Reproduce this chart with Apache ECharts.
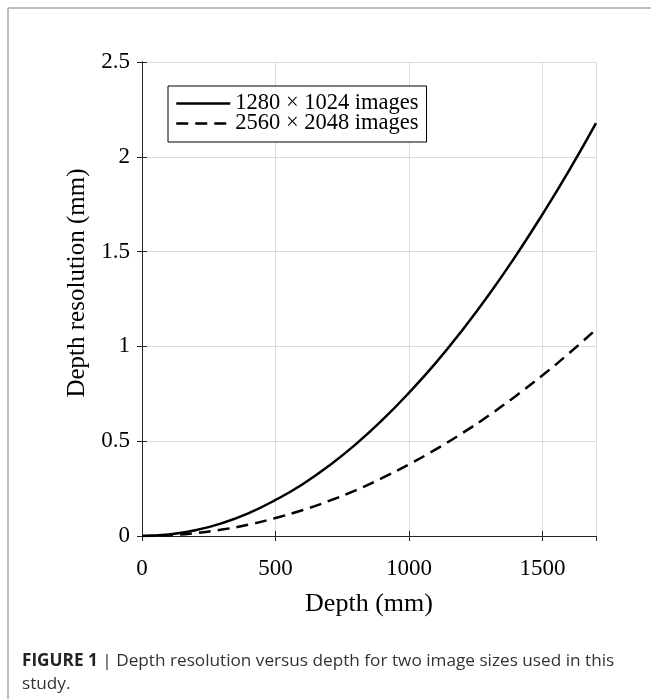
<!DOCTYPE html>
<html>
<head>
<meta charset="utf-8">
<script src="https://cdn.jsdelivr.net/npm/echarts@6/dist/echarts.min.js"></script>
<style>
html,body{margin:0;padding:0;background:#fff;}
#c{width:651px;height:699px;}
</style>
</head>
<body>
<div id="c"></div>
<script>
// Data
const depth = [0, 100, 200, 300, 400, 500, 600, 700, 800, 900, 1000, 1100, 1200, 1300, 1400, 1500, 1600, 1700];
const res1280 = [0, 0.008, 0.030, 0.068, 0.121, 0.190, 0.272, 0.370, 0.483, 0.612, 0.756, 0.913, 1.087, 1.275, 1.479, 1.698, 1.930, 2.178];
const res2560 = [0, 0.004, 0.015, 0.034, 0.060, 0.095, 0.136, 0.185, 0.241, 0.306, 0.378, 0.457, 0.543, 0.637, 0.739, 0.848, 0.965, 1.089];
const seriesNames = ['1280 × 1024 images', '2560 × 2048 images'];
const xTicks = [0, 500, 1000, 1500];
const yTicks = [0, 0.5, 1, 1.5, 2, 2.5];
const xTitle = 'Depth (mm)';
const yTitle = 'Depth resolution (mm)';
const captionBold = 'FIGURE 1';
const captionLine1 = ' | Depth resolution versus depth for two image sizes used in this';
const captionLine2 = 'study.';

const serif = '"Liberation Serif", "DejaVu Serif", serif';
const sans = '"Open Sans", "Liberation Sans", Arial, sans-serif';
const axisColor = '#262626';

const chart = echarts.init(document.getElementById('c'), null, {renderer: 'canvas'});

const hiddenAxisBase = {
  axisLine: {show: true, lineStyle: {color: axisColor, width: 1}},
  axisTick: {show: true, inside: true, length: 5, lineStyle: {color: axisColor}},
  axisLabel: {show: false},
  splitLine: {show: false}
};

chart.setOption({
  animation: false,
  backgroundColor: '#fff',
  grid: {left: 142, right: 55, top: 62, bottom: 163, containLabel: false},
  legend: {
    orient: 'vertical',
    left: 168,
    top: 86,
    data: seriesNames,
    itemWidth: 54,
    itemHeight: 20,
    itemGap: -3,
    padding: [6, 8, 7, 7],
    borderColor: '#000',
    borderWidth: 1,
    backgroundColor: '#fff',
    itemStyle: {opacity: 0},
    lineStyle: {width: 2.5},
    textStyle: {fontFamily: serif, fontSize: 22.5, color: '#000'}
  },
  xAxis: [{
    type: 'value', min: 0, max: 1700, interval: 500,
    name: xTitle, nameLocation: 'middle', nameGap: 55,
    nameTextStyle: {fontFamily: serif, fontSize: 26, color: '#000'},
    axisLine: {show: true, onZero: false, lineStyle: {color: axisColor, width: 1}},
    axisTick: {show: true, inside: true, length: 5, lineStyle: {color: axisColor}},
    axisLabel: {fontFamily: serif, fontSize: 23, color: '#000', margin: 21, showMaxLabel: false,
      formatter: v => xTicks.includes(v) ? String(v) : ''},
    splitLine: {show: true, lineStyle: {color: '#dcdcdc', width: 1}}
  }, Object.assign({type: 'value', min: 0, max: 1700, interval: 500, position: 'top'}, hiddenAxisBase)],
  yAxis: [{
    type: 'value', min: 0, max: 2.5, interval: 0.5,
    name: yTitle, nameLocation: 'middle', nameGap: 46,
    nameTextStyle: {fontFamily: serif, fontSize: 25, color: '#000', padding: [0, 0, 0, 32]},
    axisLine: {show: true, onZero: false, lineStyle: {color: axisColor, width: 1}},
    axisTick: {show: true, inside: true, length: 5, lineStyle: {color: axisColor}},
    axisLabel: {fontFamily: serif, fontSize: 23, color: '#000', margin: 12,
      formatter: v => yTicks.includes(v) ? String(v) : ''},
    splitLine: {show: true, lineStyle: {color: '#dcdcdc', width: 1}}
  }, Object.assign({type: 'value', min: 0, max: 2.5, interval: 0.5, position: 'right'}, hiddenAxisBase)],
  series: [{
    name: seriesNames[0], type: 'line', smooth: true, symbol: 'none',
    data: depth.map((d, i) => [d, res1280[i]]),
    lineStyle: {color: '#000', width: 2.5, type: 'solid'},
    itemStyle: {color: '#000'}
  }, {
    name: seriesNames[1], type: 'line', smooth: true, symbol: 'none',
    data: depth.map((d, i) => [d, res2560[i]]),
    lineStyle: {color: '#000', width: 2.5, type: [12, 7]},
    itemStyle: {color: '#000'}
  }],
  graphic: [
    {type: 'line', shape: {x1: 8, y1: 8, x2: 651, y2: 8}, style: {stroke: '#a8a8a8', lineWidth: 1.5}},
    {type: 'line', shape: {x1: 8, y1: 8, x2: 8, y2: 699}, style: {stroke: '#a8a8a8', lineWidth: 1.5}},
    {type: 'text', x: 22, y: 661, style: {
      text: '{b|' + captionBold + '}{n|' + captionLine1 + '}',
      verticalAlign: 'middle',
      rich: {
        b: {fontFamily: sans, fontSize: 17.2, fontWeight: 'bold', fill: '#222'},
        n: {fontFamily: sans, fontSize: 17.2, fill: '#333'}
      }
    }},
    {type: 'text', x: 22, y: 684, style: {
      text: captionLine2, fontFamily: sans, fontSize: 17.2, fill: '#333', verticalAlign: 'middle'
    }}
  ]
});
</script>
</body>
</html>
